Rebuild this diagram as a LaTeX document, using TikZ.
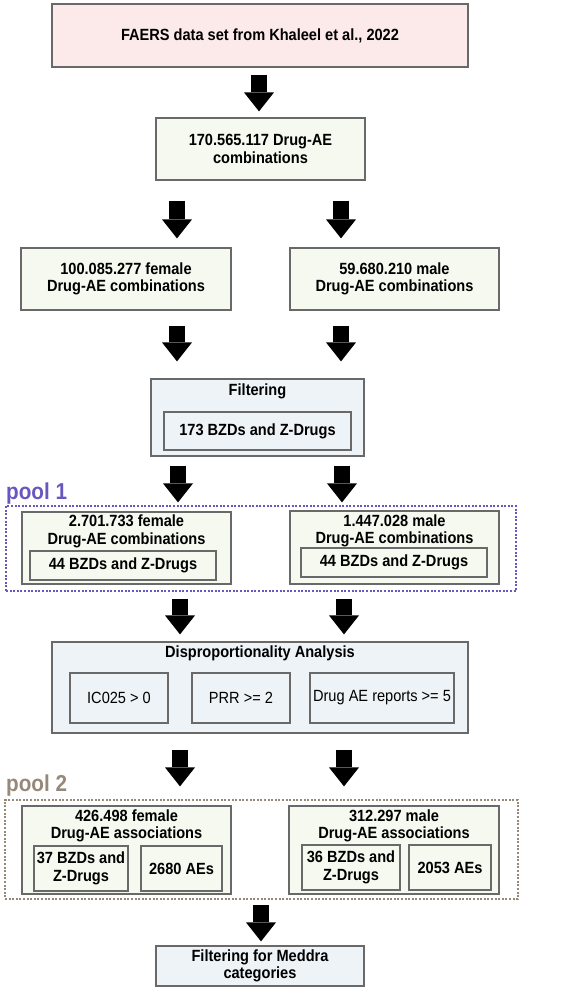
\documentclass[tikz,border=0pt]{standalone}
\usepackage{fontspec}
\setmainfont[FakeStretch=0.9]{Liberation Sans}
\usetikzlibrary{arrows.meta,calc}
\definecolor{pinkf}{RGB}{252,233,233}
\definecolor{creamf}{RGB}{246,249,240}
\definecolor{bluef}{RGB}{237,243,247}
\definecolor{edgec}{RGB}{105,105,105}
\definecolor{poolA}{RGB}{103,88,190}
\definecolor{poolB}{RGB}{150,137,122}
\begin{document}
\begin{tikzpicture}[x=1pt,y=-1pt,
  every node/.style={font=\fontsize{16.2}{17.5}\selectfont\bfseries, inner sep=0pt, align=center},
  box/.style={draw=edgec, line width=1.2pt, rectangle},
  cbox/.style={box, fill=creamf},
  bbox/.style={box, fill=bluef},
  plain/.style={font=\fontsize{16.2}{17.5}\selectfont\mdseries},
  poolrect/.style={draw=#1, line width=2pt, dash pattern=on 2pt off 1.6pt, rectangle},
  poollabel/.style={text=#1, font=\fontsize{23}{26}\selectfont\bfseries, anchor=base west},
  bigarrow/.style={draw=black, line width=16pt, -{Triangle[width=30pt,length=19pt,line width=0pt]}}]
\useasboundingbox (0,0) rectangle (567,991);

% columns for arrows
\coordinate (xlA) at (177,0); \coordinate (xrA) at (341,0);
\coordinate (xlB) at (178,0); \coordinate (xrB) at (342,0);
\coordinate (xlC) at (180,0); \coordinate (xrC) at (344,0);

% nodes
\node[box, fill=pinkf, minimum width=416pt, minimum height=63pt] (src) at (260,35.5) {FAERS data set from Khaleel et al., 2022};
\node[cbox, minimum width=209pt, minimum height=62pt] (all) at (260.5,149) {170.565.117 Drug-AE\\combinations};
\node[cbox, minimum width=210pt, minimum height=62pt] (fem1) at (126,279) {100.085.277 female\\Drug-AE combinations};
\node[cbox, minimum width=209pt, minimum height=62pt] (mal1) at (394.5,279) {59.680.210 male\\Drug-AE combinations};

\node[bbox, minimum width=213pt, minimum height=77pt] (filt) at (257.5,417.5) {};
\node (filtT) at (257.5,391) {Filtering};
\node[bbox, minimum width=187pt, minimum height=38pt] (filtI) at (257.5,431) {173 BZDs and Z-Drugs};

\node[poolrect=poolA, minimum width=510pt, minimum height=85pt] (pool1) at (261,548.5) {};
\node[poollabel=poolA] (pool1L) at (6,499) {pool 1};
\node[cbox, minimum width=209pt, minimum height=72pt] (fem2) at (126.5,548) {};
\node (fem2T) at (126.5,531.5) {2.701.733 female\\Drug-AE combinations};
\node[cbox, minimum width=186pt, minimum height=29pt] (fem2I) at (123,565.5) {44 BZDs and Z-Drugs};
\node[cbox, minimum width=209pt, minimum height=73pt] (mal2) at (394.5,547.5) {};
\node (mal2T) at (394.5,531) {1.447.028 male\\Drug-AE combinations};
\node[cbox, minimum width=186pt, minimum height=29pt] (mal2I) at (394,562.5) {44 BZDs and Z-Drugs};

\node[bbox, minimum width=416pt, minimum height=91pt] (disp) at (260,687.5) {};
\node (dispT) at (260,653) {Disproportionality Analysis};
\node[bbox, plain, minimum width=98pt, minimum height=50pt] (ic) at (119,698) {IC025 > 0};
\node[bbox, plain, minimum width=98pt, minimum height=50pt] (prr) at (241,698) {PRR >= 2};
\node[bbox, plain, minimum width=144pt, minimum height=50pt] (rep) at (382,698) {Drug AE reports >= 5};

\node[poolrect=poolB, minimum width=513pt, minimum height=99pt] (pool2) at (261.5,849.5) {};
\node[poollabel=poolB] (pool2L) at (6,791) {pool 2};
\node[cbox, minimum width=209pt, minimum height=88pt] (fem3) at (126.5,850) {};
\node (fem3T) at (126.5,826) {426.498 female\\Drug-AE associations};
\node[cbox, minimum width=94pt, minimum height=45pt] (fem3A) at (81,868.5) {37 BZDs and\\Z-Drugs};
\node[cbox, minimum width=81pt, minimum height=45pt] (fem3B) at (181.5,868.5) {2680 AEs};
\node[cbox, minimum width=210pt, minimum height=88pt] (mal3) at (394,850) {};
\node (mal3T) at (394,826) {312.297 male\\Drug-AE associations};
\node[cbox, minimum width=98pt, minimum height=45pt] (mal3A) at (351,867.5) {36 BZDs and\\Z-Drugs};
\node[cbox, minimum width=82pt, minimum height=45pt] (mal3B) at (450,867.5) {2053 AEs};

\node[bbox, minimum width=208pt, minimum height=40pt] (final) at (260,966) {Filtering for Meddra\\categories};

% arrows
\draw[bigarrow] ($(src.south)+(-1,7)$) -- ($(all.north)+(-1.5,-6)$);
\draw[bigarrow] ($(all.south -| xlA)+(0,20)$) -- ($(fem1.north -| xlA)+(0,-9)$);
\draw[bigarrow] ($(all.south -| xrA)+(0,20)$) -- ($(mal1.north -| xrA)+(0,-9)$);
\draw[bigarrow] ($(fem1.south -| xlA)+(0,15)$) -- ($(filt.north -| xlA)+(0,-17)$);
\draw[bigarrow] ($(mal1.south -| xrA)+(0,15)$) -- ($(filt.north -| xrA)+(0,-17)$);
\draw[bigarrow] ($(filt.south -| xlB)+(0,9)$) -- ($(fem2.north -| xlB)+(0,-9)$);
\draw[bigarrow] ($(filt.south -| xrB)+(0,9)$) -- ($(mal2.north -| xrB)+(0,-8)$);
\draw[bigarrow] ($(fem2.south -| xlC)+(0,14)$) -- ($(disp.north -| xlC)+(0,-7)$);
\draw[bigarrow] ($(mal2.south -| xrC)+(0,14)$) -- ($(disp.north -| xrC)+(0,-7)$);
\draw[bigarrow] ($(disp.south -| xlC)+(0,16)$) -- ($(fem3.north -| xlC)+(0,-19)$);
\draw[bigarrow] ($(disp.south -| xrC)+(0,16)$) -- ($(mal3.north -| xrC)+(0,-19)$);
\draw[bigarrow] ($(pool2.south)+(-0.5,5)$) -- ($(final.north)+(1,-4)$);
\end{tikzpicture}
\end{document}
